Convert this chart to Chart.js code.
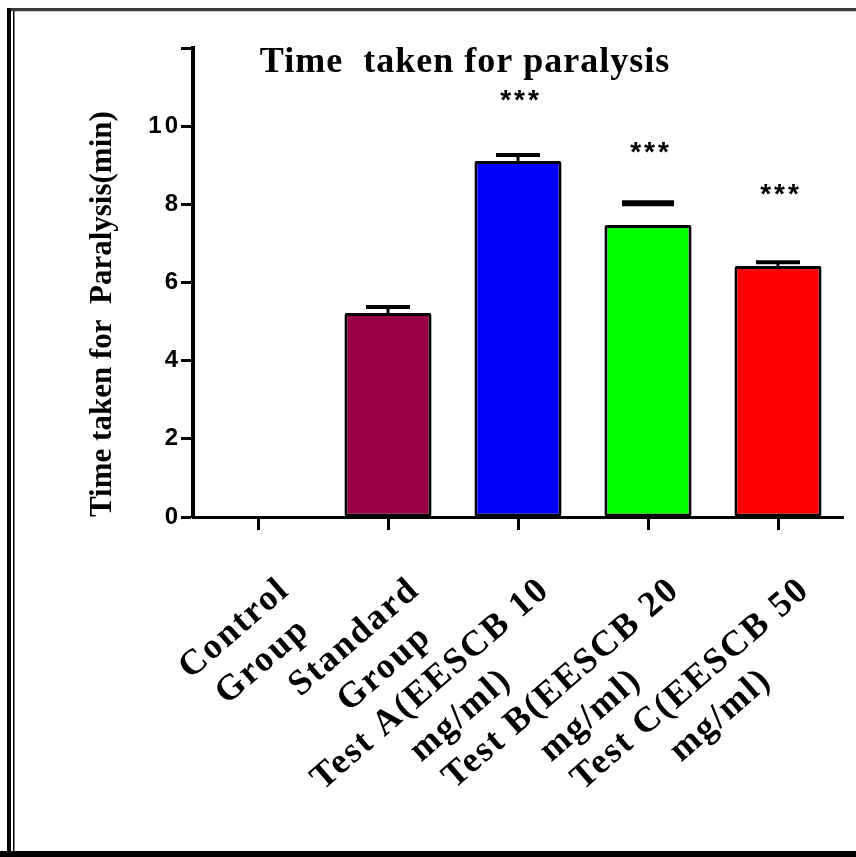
<!DOCTYPE html>
<html>
<head>
<meta charset="utf-8">
<script src="https://cdn.jsdelivr.net/npm/chart.js@4"></script>
<style>
  html, body { margin: 0; padding: 0; background: #ffffff; }
  canvas { display: block; }
</style>
</head>
<body>
<canvas id="chart" width="856" height="857"></canvas>
<script>
// ---------- data ----------
const categories = [
  ['Control', 'Group'],
  ['Standard', 'Group'],
  ['Test A(EESCB 10', 'mg/ml)'],
  ['Test B(EESCB 20', 'mg/ml)'],
  ['Test C(EESCB 50', 'mg/ml)']
];
const meanValues = [0, 5.22, 9.11, 7.47, 6.42];
const semValues = [0, 0.15, 0.15, 0.56, 0.10];
const significanceMarks = ['', '', '***', '***', '***'];
const significanceLevels = [null, null, 10.85, 9.52, 8.44];
const yTickValues = [0, 2, 4, 6, 8, 10, 12];
const yTickLabels = ['0', '2', '4', '6', '8', '10', ''];
const chartTitle = 'Time  taken for paralysis';
const yAxisTitle = 'Time taken for  Paralysis(min)';

// ---------- styles ----------
const barColors = ['#ffffff', '#9c0045', '#0000ff', '#00ff00', '#ff0000'];
const barBorderWidths = [0, 3, 3, 3, 3];
const errorStyle = [
  null,
  { stem: true, capWidth: 44, capThickness: 4 },
  { stem: true, capWidth: 44, capThickness: 4 },
  { stem: false, capWidth: 52, capThickness: 6 },
  { stem: true, capWidth: 44, capThickness: 4 }
];
const fontSerif = "'Liberation Serif', 'Times New Roman', serif";
const fontSans = "'Liberation Sans', Arial, sans-serif";
const xLabelSize = 36;
const labelSpacing = { x: 2, y: 3 };

const measureCtx = document.createElement('canvas').getContext('2d');
function centerLines(lines) {
  if (!Array.isArray(lines)) return lines;
  measureCtx.font = `bold ${xLabelSize}px ${fontSerif}`;
  if ('letterSpacing' in measureCtx) measureCtx.letterSpacing = labelSpacing.x + 'px';
  const widths = lines.map(l => measureCtx.measureText(l).width);
  const maxW = Math.max(...widths);
  const spaceW = measureCtx.measureText(' ').width;
  return lines.map((l, i) => l + ' '.repeat(Math.max(0, Math.round((maxW - widths[i]) / 2 / spaceW))));
}

const letterSpacingPlugin = {
  id: 'letterSpacingPatch',
  beforeDraw(chart) {
    ['x', 'y'].forEach(id => {
      const s = chart.scales[id];
      if (!s || s.__patched) return;
      const orig = s.drawLabels;
      s.drawLabels = function (area) {
        const ctx = this.ctx;
        ctx.save();
        if ('letterSpacing' in ctx) ctx.letterSpacing = labelSpacing[id] + 'px';
        orig.call(this, area);
        ctx.restore();
      };
      s.__patched = true;
    });
  }
};

const errorBarPlugin = {
  id: 'errorBars',
  afterDatasetsDraw(chart) {
    const ctx = chart.ctx;
    const meta = chart.getDatasetMeta(0);
    const y = chart.scales.y;
    ctx.save();
    ctx.strokeStyle = '#000';
    ctx.lineCap = 'butt';
    meanValues.forEach((v, i) => {
      const err = semValues[i];
      const st = errorStyle[i];
      if (!err || !st) return;
      const x = meta.data[i].x;
      const yBar = y.getPixelForValue(v);
      const yTop = y.getPixelForValue(v + err);
      if (st.stem) {
        ctx.lineWidth = 3;
        ctx.beginPath(); ctx.moveTo(x, yBar); ctx.lineTo(x, yTop); ctx.stroke();
      }
      ctx.lineWidth = st.capThickness;
      ctx.beginPath(); ctx.moveTo(x - st.capWidth / 2, yTop); ctx.lineTo(x + st.capWidth / 2, yTop); ctx.stroke();
    });
    // significance stars
    ctx.fillStyle = '#000';
    ctx.font = `bold 28px ${fontSans}`;
    if ('letterSpacing' in ctx) ctx.letterSpacing = '3px';
    ctx.textAlign = 'center';
    ctx.textBaseline = 'alphabetic';
    significanceMarks.forEach((m, i) => {
      if (!m || significanceLevels[i] == null) return;
      const x = meta.data[i].x;
      const yy = y.getPixelForValue(significanceLevels[i]);
      ctx.fillText(m, x + 3, yy + 16);
    });
    ctx.restore();
  }
};

const decorPlugin = {
  id: 'decor',
  afterDraw(chart) {
    const ctx = chart.ctx;
    ctx.save();
    // chart title (drawn inside the plot area like the reference)
    ctx.fillStyle = '#000';
    ctx.font = `bold 36px ${fontSerif}`;
    if ('letterSpacing' in ctx) ctx.letterSpacing = '1px';
    ctx.textAlign = 'center';
    ctx.textBaseline = 'alphabetic';
    ctx.fillText(chartTitle, 465, 72);
    if ('letterSpacing' in ctx) ctx.letterSpacing = '0px';
    // frame
    ctx.fillStyle = '#3a3a3a';
    ctx.fillRect(7, 8, 849, 3);
    ctx.fillStyle = '#c8c8c8';
    ctx.fillRect(14, 11, 842, 1);
    ctx.fillStyle = '#000';
    ctx.fillRect(7, 8, 4, 849);
    ctx.fillRect(13, 11, 1.5, 846);
    ctx.fillRect(0, 851, 856, 6);
    ctx.restore();
  }
};

new Chart(document.getElementById('chart'), {
  type: 'bar',
  data: {
    labels: categories,
    datasets: [{
      data: meanValues,
      backgroundColor: barColors,
      borderColor: '#000',
      borderWidth: barBorderWidths,
      borderSkipped: false,
      borderRadius: 2,
      barPercentage: 0.67,
      categoryPercentage: 1.0
    }]
  },
  options: {
    responsive: false,
    animation: false,
    devicePixelRatio: 1,
    layout: { padding: { left: 0, right: 13, top: 48, bottom: 0 } },
    plugins: {
      legend: { display: false },
      tooltip: { enabled: false },
      title: { display: false }
    },
    scales: {
      x: {
        grid: { display: true, drawOnChartArea: false, offset: false, tickLength: 13, tickWidth: 3, tickColor: '#000' },
        border: { display: true, color: '#000', width: 3 },
        ticks: {
          autoSkip: false,
          minRotation: 41,
          maxRotation: 41,
          color: '#000',
          font: { family: fontSerif, size: xLabelSize, weight: 'bold', lineHeight: 1.2 },
          padding: 39,
          labelOffset: 27,
          callback(value, index) { return centerLines(categories[index]); }
        },
        afterFit(scale) {
          scale.height = 340;
          scale.paddingLeft = 0;
          scale.paddingRight = 0;
        }
      },
      y: {
        min: 0,
        max: 12,
        afterBuildTicks(scale) { scale.ticks = yTickValues.map(v => ({ value: v })); },
        grid: { display: true, drawOnChartArea: false, tickLength: 12, tickWidth: 3, tickColor: '#000' },
        border: { display: true, color: '#000', width: 4 },
        ticks: {
          color: '#000',
          font: { family: fontSans, size: 24, weight: 'bold' },
          padding: 0,
          callback(value, index) { return yTickLabels[index]; }
        },
        title: {
          display: true,
          text: yAxisTitle,
          align: 'start',
          color: '#000',
          font: { family: fontSerif, size: 31, weight: 'bold', lineHeight: 1.2 },
          padding: { top: 84, bottom: 0 }
        },
        afterFit(scale) {
          scale.width = 193;
          scale.paddingTop = 0;
          scale.paddingBottom = 0;
        }
      }
    }
  },
  plugins: [letterSpacingPlugin, errorBarPlugin, decorPlugin]
});
</script>
</body>
</html>
